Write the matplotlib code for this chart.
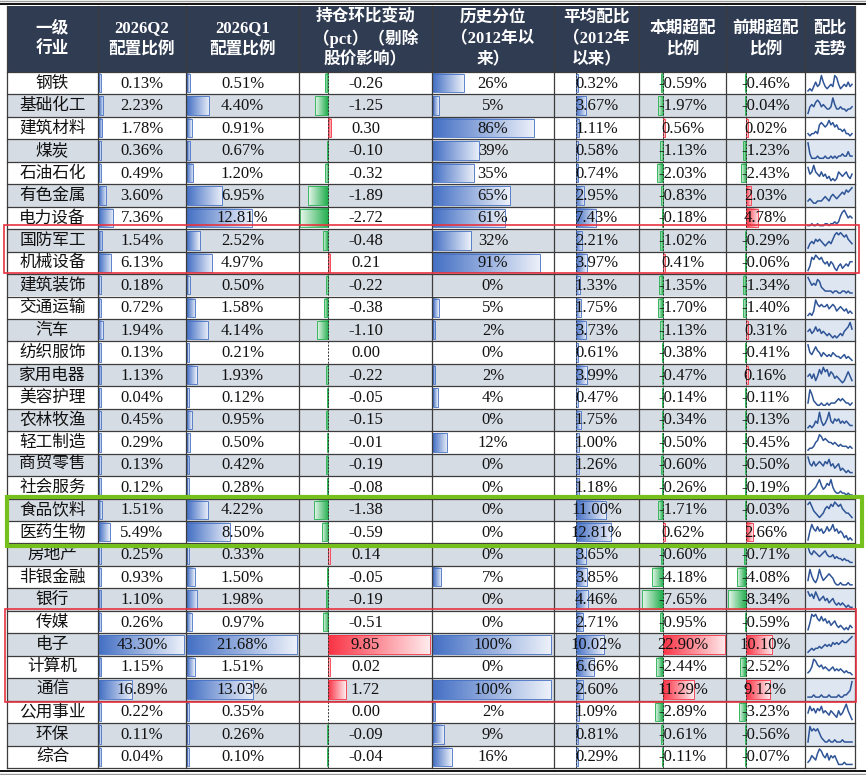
import numpy as np
import matplotlib.pyplot as plt
from matplotlib.patches import Rectangle

plt.rcParams['font.family'] = ['Liberation Serif', 'Noto Sans CJK SC']

industries = ['钢铁', '基础化工', '建筑材料', '煤炭', '石油石化', '有色金属', '电力设备', '国防军工',
              '机械设备', '建筑装饰', '交通运输', '汽车', '纺织服饰', '家用电器', '美容护理', '农林牧渔',
              '轻工制造', '商贸零售', '社会服务', '食品饮料', '医药生物', '房地产', '非银金融', '银行',
              '传媒', '电子', '计算机', '通信', '公用事业', '环保', '综合']
q2 = [0.13, 2.23, 1.78, 0.36, 0.49, 3.60, 7.36, 1.54, 6.13, 0.18, 0.72, 1.94, 0.13, 1.13, 0.04, 0.45,
      0.29, 0.13, 0.12, 1.51, 5.49, 0.25, 0.93, 1.10, 0.26, 43.30, 1.15, 16.89, 0.22, 0.11, 0.04]
q1 = [0.51, 4.40, 0.91, 0.67, 1.20, 6.95, 12.81, 2.52, 4.97, 0.50, 1.58, 4.14, 0.21, 1.93, 0.12, 0.95,
      0.50, 0.42, 0.28, 4.22, 8.50, 0.33, 1.50, 1.98, 0.97, 21.68, 1.51, 13.03, 0.35, 0.26, 0.10]
chg = [-0.26, -1.25, 0.30, -0.10, -0.32, -1.89, -2.72, -0.48, 0.21, -0.22, -0.38, -1.10, 0.00, -0.22,
       -0.05, -0.15, -0.01, -0.19, -0.08, -1.38, -0.59, 0.14, -0.05, -0.19, -0.51, 9.85, 0.02, 1.72,
       0.00, -0.09, -0.04]
pctl = [26, 5, 86, 39, 35, 65, 61, 32, 91, 0, 5, 2, 0, 2, 4, 0, 12, 0, 0, 0, 0, 0, 7, 0, 0, 100, 0,
        100, 2, 9, 16]
avg = [0.32, 3.67, 1.11, 0.58, 0.74, 2.95, 7.43, 2.21, 3.97, 1.33, 1.75, 3.73, 0.61, 3.99, 0.47, 1.75,
       1.00, 1.26, 1.18, 11.00, 12.81, 3.65, 3.85, 4.46, 2.71, 10.02, 6.66, 2.60, 1.09, 0.81, 0.29]
over_now = [-0.59, -1.97, 0.56, -1.13, -2.03, -0.83, -0.18, -1.02, 0.41, -1.35, -1.70, -1.13, -0.38,
            -0.47, -0.14, -0.34, -0.50, -0.60, -0.26, -1.71, 0.62, -0.60, -4.18, -7.65, -0.95, 22.90,
            -2.44, 11.29, -2.89, -0.61, -0.11]
over_prev = [-0.46, -0.04, 0.02, -1.23, -2.43, 2.03, 4.78, -0.29, -0.06, -1.34, -1.40, 0.31, -0.41,
             0.16, -0.11, -0.13, -0.45, -0.50, -0.19, -0.03, 2.66, -0.71, -4.08, -8.34, -0.59, 10.10,
             -2.52, 9.12, -3.23, -0.56, -0.07]

# sparkline shapes (relative level, estimated by eye)
trend = [
    [2, 3, 2, 4, 6, 4, 5, 9, 6, 4, 3, 4, 5, 4, 9, 8, 5, 3, 4, 5, 4, 6, 4, 5],
    [2, 5, 6, 5, 7, 8, 7, 5, 6, 5, 4, 4, 5, 9, 6, 4, 4, 5, 4, 4, 3, 4, 4, 5],
    [3, 2, 3, 3, 4, 3, 7, 8, 7, 6, 7, 9, 7, 8, 6, 7, 5, 5, 4, 5, 3, 3, 2, 3],
    [9, 4, 2, 2, 2, 3, 2, 2, 2, 3, 2, 2, 3, 2, 3, 2, 3, 3, 4, 3, 3, 5, 3, 3],
    [8, 5, 6, 9, 6, 5, 4, 6, 4, 5, 3, 4, 2, 3, 2, 3, 6, 5, 4, 5, 6, 4, 3, 5],
    [3, 4, 3, 2, 2, 3, 3, 3, 4, 5, 4, 3, 5, 6, 5, 4, 5, 6, 7, 6, 8, 7, 8, 9],
    [1, 1, 2, 1, 1, 2, 1, 1, 1, 2, 2, 1, 2, 2, 3, 2, 3, 6, 8, 9, 7, 5, 6, 5],
    [2, 4, 5, 4, 6, 5, 6, 5, 4, 3, 4, 5, 4, 6, 8, 9, 8, 9, 8, 7, 8, 6, 5, 4],
    [2, 4, 8, 7, 9, 8, 7, 8, 6, 5, 6, 4, 6, 5, 3, 2, 4, 5, 3, 4, 5, 4, 6, 6],
    [9, 7, 5, 6, 5, 8, 7, 4, 3, 2, 2, 2, 2, 1, 2, 2, 1, 1, 2, 2, 1, 2, 1, 1],
    [2, 3, 2, 4, 9, 7, 6, 7, 6, 6, 7, 5, 6, 7, 6, 4, 5, 6, 5, 4, 5, 3, 4, 3],
    [5, 6, 4, 5, 7, 5, 6, 4, 5, 4, 3, 4, 3, 2, 3, 2, 3, 4, 3, 5, 6, 7, 9, 6],
    [9, 5, 4, 6, 8, 6, 5, 3, 5, 4, 3, 4, 3, 5, 4, 3, 3, 2, 3, 4, 2, 3, 2, 1],
    [5, 6, 4, 6, 3, 5, 8, 6, 9, 7, 8, 5, 7, 6, 4, 5, 4, 3, 2, 3, 5, 7, 5, 3],
    [3, 9, 7, 4, 3, 2, 2, 3, 2, 2, 3, 2, 3, 3, 3, 4, 5, 4, 5, 4, 3, 3, 2, 3],
    [2, 3, 2, 3, 5, 4, 9, 5, 3, 4, 6, 9, 5, 4, 6, 5, 6, 4, 5, 4, 5, 4, 3, 3],
    [1, 2, 2, 3, 5, 6, 9, 8, 6, 7, 6, 5, 5, 4, 5, 4, 3, 4, 3, 3, 3, 2, 3, 2],
    [9, 6, 5, 7, 5, 6, 7, 6, 5, 7, 6, 8, 5, 6, 4, 5, 6, 3, 4, 3, 2, 3, 2, 2],
    [1, 2, 3, 4, 5, 7, 9, 6, 4, 5, 7, 6, 9, 5, 3, 2, 2, 3, 2, 2, 1, 2, 1, 1],
    [8, 9, 7, 5, 4, 3, 2, 3, 4, 6, 7, 6, 8, 7, 9, 8, 7, 8, 6, 5, 4, 4, 3, 2],
    [2, 6, 9, 7, 6, 8, 6, 7, 5, 6, 8, 6, 7, 9, 6, 7, 5, 6, 5, 3, 4, 2, 3, 2],
    [9, 6, 5, 7, 6, 5, 4, 5, 6, 7, 5, 4, 4, 5, 3, 4, 3, 3, 2, 3, 2, 2, 1, 1],
    [4, 9, 6, 4, 3, 5, 9, 6, 4, 5, 6, 7, 6, 5, 3, 2, 2, 3, 2, 2, 2, 3, 2, 2],
    [9, 7, 8, 6, 9, 7, 5, 6, 7, 5, 6, 4, 5, 6, 4, 3, 4, 3, 4, 3, 2, 3, 2, 2],
    [2, 5, 9, 8, 9, 7, 6, 8, 6, 7, 5, 6, 4, 5, 6, 4, 3, 4, 3, 2, 3, 2, 4, 3],
    [1, 2, 3, 2, 3, 3, 4, 3, 4, 5, 4, 5, 4, 6, 5, 6, 5, 6, 7, 6, 6, 7, 8, 9],
    [2, 3, 5, 9, 8, 6, 5, 6, 4, 5, 4, 3, 4, 5, 3, 4, 3, 4, 3, 2, 3, 2, 2, 1],
    [2, 2, 2, 3, 2, 2, 2, 3, 2, 2, 2, 3, 2, 2, 2, 2, 3, 2, 2, 3, 3, 4, 5, 9],
    [5, 8, 6, 7, 5, 7, 6, 8, 5, 6, 5, 4, 6, 5, 4, 3, 6, 4, 5, 7, 9, 6, 4, 2],
    [2, 9, 7, 8, 7, 8, 6, 4, 3, 2, 2, 3, 2, 2, 3, 2, 2, 2, 3, 2, 2, 2, 2, 2],
    [2, 3, 5, 4, 3, 6, 8, 7, 5, 4, 6, 3, 5, 4, 5, 3, 1, 1, 1, 2, 1, 1, 1, 1],
]

headers = [['一级', '行业'], ['2026Q2', '配置比例'], ['2026Q1', '配置比例'],
           ['持仓环比变动', '（pct）（剔除', '股价影响）'], ['历史分位', '（2012年以', '来）'],
           ['平均配比', '（2012年', '以来）'], ['本期超配', '比例'], ['前期超配', '比例'], ['配比', '走势']]

# ---- layout in pixels ----
col_edges = [7, 98, 186, 299, 432, 554, 639, 726, 805, 855]
head_top, head_bot = 6, 72
row_h = 22.45
n = len(industries)
table_bot = head_bot + n * row_h

HEAD = '#303c52'
BAND = '#d6dce4'
BAND_SPARK = '#dde6f1'
GRID = '#3c3c3c'
BLUE = (0.27, 0.44, 0.77)
GREEN = (0.13, 0.68, 0.30)
RED = (0.98, 0.20, 0.27)

fig = plt.figure(figsize=(8.66, 7.75), dpi=100)
ax = fig.add_axes([0, 0, 1, 1])


def row_top(i):
    return head_bot + i * row_h


def data_bar(axis_x, length, i, color):
    if length == 0:
        return
    if abs(length) < 1.5:
        length = np.sign(length) * 1.5
    top, bot = row_top(i) + 2, row_top(i) + row_h - 2
    x0, x1 = sorted([axis_x, axis_x + length])
    c0 = np.array(color)
    c1 = c0 + (1 - c0) * 0.9
    t = np.linspace(0, 1, 64)
    if length < 0:
        t = t[::-1]
    img = c0[None, :] * (1 - t[:, None]) + c1[None, :] * t[:, None]
    ax.imshow(img[None, :, :], extent=(x0, x1, bot, top), aspect='auto',
              interpolation='bilinear', zorder=2)
    ax.add_patch(Rectangle((x0, top), x1 - x0, bot - top, fill=False, ec=color, lw=0.6, zorder=2.1))


# row banding
for i in range(n):
    if i % 2 == 1:
        ax.add_patch(Rectangle((col_edges[0], row_top(i)), col_edges[8] - col_edges[0], row_h,
                               fc=BAND, ec='none', zorder=1))
        ax.add_patch(Rectangle((col_edges[8], row_top(i)), col_edges[9] - col_edges[8], row_h,
                               fc=BAND_SPARK, ec='none', zorder=1))

# header
ax.add_patch(Rectangle((col_edges[0], head_top), col_edges[-1] - col_edges[0], head_bot - head_top,
                       fc=HEAD, ec='none', zorder=1))
for j, lines in enumerate(headers):
    xc = (col_edges[j] + col_edges[j + 1]) / 2
    yc = (head_top + head_bot) / 2
    for k, s in enumerate(lines):
        ax.text(xc, yc + (k - (len(lines) - 1) / 2) * 21.5, s, color='white', fontsize=12,
                fontweight='bold', ha='center', va='center', zorder=5)

# data bars
for i in range(n):
    data_bar(col_edges[1] + 1, q2[i] * 85 / max(q2), i, BLUE)
    data_bar(col_edges[2] + 1, q1[i] * 110 / max(q1), i, BLUE)
    data_bar(328, chg[i] * 10.35, i, RED if chg[i] > 0 else GREEN)
    data_bar(col_edges[4] + 1, pctl[i] * 1.18, i, BLUE)
    data_bar(576, avg[i] * 2.75, i, BLUE)
    data_bar(663, over_now[i] * 2.72, i, RED if over_now[i] > 0 else GREEN)
    data_bar(746, over_prev[i] * (2.6 if over_prev[i] > 0 else 2.2), i,
             RED if over_prev[i] > 0 else GREEN)

# dashed bar axes
for xa in [328, 576, 663, 746]:
    ax.plot([xa, xa], [head_bot, table_bot], color='#333333', lw=0.7, ls=(0, (2, 1.5)), zorder=2.5)

# grid
for x in col_edges:
    ax.plot([x, x], [head_top, table_bot], color=GRID, lw=0.9, zorder=3)
for i in range(n + 1):
    y = row_top(i)
    ax.plot([col_edges[0], col_edges[-1]], [y, y], color=GRID, lw=0.9, zorder=3)

# cell text
for i in range(n):
    yc = row_top(i) + row_h / 2 + 0.5
    cells = [industries[i], f'{q2[i]:.2f}%', f'{q1[i]:.2f}%', f'{chg[i]:.2f}', f'{pctl[i]}%',
             f'{avg[i]:.2f}%', f'{over_now[i]:.2f}%', f'{over_prev[i]:.2f}%']
    for j, s in enumerate(cells):
        xc = (col_edges[j] + col_edges[j + 1]) / 2
        ax.text(xc, yc, s, fontsize=12, color='#111111', ha='center', va='center', zorder=5)

# sparklines
for i, s in enumerate(trend):
    s = np.array(s, dtype=float)
    top, bot = row_top(i) + 3.5, row_top(i) + row_h - 3.5
    xs = np.linspace(col_edges[8] + 3, col_edges[9] - 3, len(s))
    ys = bot - (s - s.min()) / (s.max() - s.min()) * (bot - top)
    ax.plot(xs, ys, color='#2f5597', lw=1.1, zorder=4)

# outer rules
ax.plot([0, 866], [1, 1], color='#999999', lw=1.0, zorder=6)
ax.plot([0, 866], [3.8, 3.8], color='#111111', lw=1.4, zorder=6)
ax.plot([0, 866], [770.5, 770.5], color='#111111', lw=1.4, zorder=6)
ax.plot([0, 866], [773.5, 773.5], color='#999999', lw=1.0, zorder=6)

# highlight boxes
ax.add_patch(Rectangle((4, 225), 855, 48, fill=False, ec='#e8333f', lw=1.2, zorder=7))
ax.add_patch(Rectangle((7, 496.5), 855, 49.5, fill=False, ec='#76c01e', lw=3.0, zorder=7))
ax.add_patch(Rectangle((5, 609), 851, 93, fill=False, ec='#e8333f', lw=1.2, zorder=7))

ax.set_xlim(0, 866)
ax.set_ylim(775, 0)
ax.axis('off')
fig.savefig('out.png', dpi=100)
